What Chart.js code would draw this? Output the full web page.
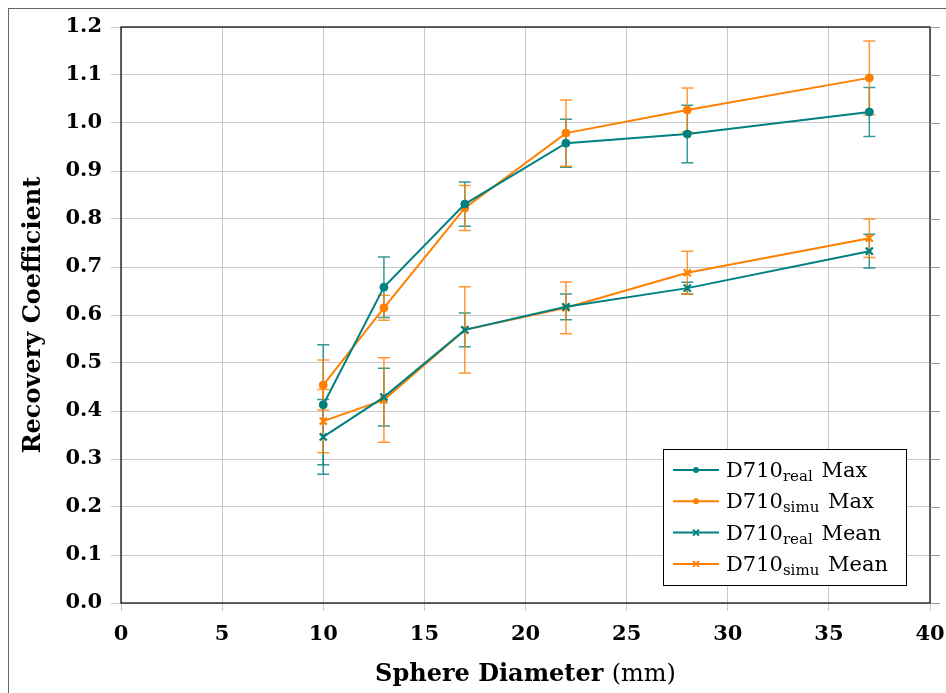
<!DOCTYPE html>
<html>
<head>
<meta charset="utf-8">
<script src="https://cdn.jsdelivr.net/npm/chart.js@4/dist/chart.umd.min.js"></script>
<style>
  html,body{margin:0;padding:0;background:#fff;}
  #wrap{width:946px;height:693px;position:relative;}
</style>
</head>
<body>
<div id="wrap"><canvas id="c" width="946" height="693"></canvas></div>
<script>
// ── data ─────────────────────────────────────────────
const diameters   = [10, 13, 17, 22, 28, 37];
const realMax     = [0.413, 0.658, 0.831, 0.958, 0.977, 1.023];
const realMaxErr  = [0.125, 0.063, 0.046, 0.050, 0.060, 0.051];
const simuMax     = [0.454, 0.615, 0.823, 0.979, 1.027, 1.094];
const simuMaxErr  = [0.052, 0.026, 0.047, 0.069, 0.046, 0.077];
const realMean    = [0.346, 0.429, 0.569, 0.617, 0.656, 0.733];
const realMeanErr = [0.078, 0.060, 0.035, 0.027, 0.012, 0.035];
const simuMean    = [0.379, 0.423, 0.569, 0.615, 0.688, 0.760];
const simuMeanErr = [0.066, 0.088, 0.090, 0.054, 0.045, 0.040];
const xTicks = [0, 5, 10, 15, 20, 25, 30, 35, 40];
const yTicks = [0, 0.1, 0.2, 0.3, 0.4, 0.5, 0.6, 0.7, 0.8, 0.9, 1.0, 1.1, 1.2];

const TEAL = '#008080', ORANGE = '#ff8000';
const SERIF = "'DejaVu Serif', 'Liberation Serif', serif";

const series = [
  {name:'D710', sub:'real', tail:' Max',  vals:realMax,  err:realMaxErr,  color:TEAL,   style:'circle'},
  {name:'D710', sub:'simu', tail:' Max',  vals:simuMax,  err:simuMaxErr,  color:ORANGE, style:'circle'},
  {name:'D710', sub:'real', tail:' Mean', vals:realMean, err:realMeanErr, color:TEAL,   style:'crossRot'},
  {name:'D710', sub:'simu', tail:' Mean', vals:simuMean, err:simuMeanErr, color:ORANGE, style:'crossRot'}
];

// error bars, drawn under the lines
const errorBars = {
  id:'errorBars',
  beforeDatasetsDraw(chart){
    const {ctx, scales:{x, y}} = chart;
    ctx.save();
    series.forEach(s=>{
      ctx.strokeStyle = s.color;
      ctx.globalAlpha = 0.8;
      ctx.lineWidth = 1.5;
      s.vals.forEach((v,i)=>{
        const px = x.getPixelForValue(diameters[i]);
        const top = y.getPixelForValue(v + s.err[i]);
        const bot = y.getPixelForValue(v - s.err[i]);
        ctx.beginPath();
        ctx.moveTo(px, top); ctx.lineTo(px, bot);
        ctx.moveTo(px-6, top); ctx.lineTo(px+6, top);
        ctx.moveTo(px-6, bot); ctx.lineTo(px+6, bot);
        ctx.stroke();
      });
    });
    ctx.restore();
  }
};

// frame, axis box, right ticks, titles and legend
const decor = {
  id:'decor',
  afterDraw(chart){
    const {ctx, chartArea:a, scales:{x, y}} = chart;
    ctx.save();
    // outer figure frame
    ctx.strokeStyle = '#666'; ctx.lineWidth = 1;
    ctx.strokeRect(8.5, 8.5, 1200, 1200);
    // axis box
    ctx.strokeStyle = '#000'; ctx.lineWidth = 1.2;
    ctx.strokeRect(a.left, a.top, a.right-a.left, a.bottom-a.top);
    // outward ticks on the right
    ctx.strokeStyle = '#999'; ctx.lineWidth = 1;
    yTicks.forEach(t=>{
      const py = Math.round(y.getPixelForValue(t)) + 0.5;
      ctx.beginPath(); ctx.moveTo(a.right, py); ctx.lineTo(a.right+10, py); ctx.stroke();
    });
    // x title: bold words + regular unit
    ctx.fillStyle = '#000';
    ctx.textBaseline = 'alphabetic';
    const boldF = "bold 24px " + SERIF, regF = "24px " + SERIF;
    ctx.font = boldF; const w1 = ctx.measureText('Sphere Diameter ').width;
    ctx.font = regF;  const w2 = ctx.measureText('(mm)').width;
    let sx = (a.left + a.right)/2 - (w1+w2)/2;
    ctx.font = boldF; ctx.fillText('Sphere Diameter ', sx, 681);
    ctx.font = regF;  ctx.fillText('(mm)', sx + w1, 681);
    // y title
    ctx.save();
    ctx.translate(40, (a.top + a.bottom)/2);
    ctx.rotate(-Math.PI/2);
    ctx.font = boldF; ctx.textAlign = 'center';
    ctx.fillText('Recovery Coefficient', 0, 0);
    ctx.restore();
    // legend
    const lw = 243, lh = 136;
    const lx = a.right - 24 - lw, ly = a.bottom - 18 - lh;
    ctx.fillStyle = '#fff';
    ctx.fillRect(lx, ly, lw, lh);
    ctx.strokeStyle = '#000'; ctx.lineWidth = 1;
    ctx.strokeRect(Math.round(lx)+0.5, Math.round(ly)+0.5, lw, lh);
    series.forEach((s,i)=>{
      const cy = ly + 21 + i*31.3;
      ctx.strokeStyle = s.color; ctx.fillStyle = s.color; ctx.lineWidth = 2;
      ctx.beginPath(); ctx.moveTo(lx+10, cy); ctx.lineTo(lx+56, cy); ctx.stroke();
      const mx = lx + 33;
      if (s.style === 'circle') {
        ctx.beginPath(); ctx.arc(mx, cy, 3, 0, Math.PI*2); ctx.fill();
      } else {
        ctx.beginPath();
        ctx.moveTo(mx-3, cy-3); ctx.lineTo(mx+3, cy+3);
        ctx.moveTo(mx-3, cy+3); ctx.lineTo(mx+3, cy-3); ctx.stroke();
      }
      ctx.fillStyle = '#000';
      let tx = lx + 63;
      ctx.font = "21px " + SERIF;
      ctx.fillText(s.name, tx, cy + 7); tx += ctx.measureText(s.name).width;
      ctx.font = "15px " + SERIF;
      ctx.fillText(s.sub, tx, cy + 11); tx += ctx.measureText(s.sub).width;
      ctx.font = "21px " + SERIF;
      ctx.fillText(s.tail, tx + 2, cy + 7);
    });
    ctx.restore();
  }
};

const datasets = series.map(s=>({
  label: s.name + s.sub + s.tail,
  data: diameters.map((d,i)=>({x:d, y:s.vals[i]})),
  showLine: true,
  borderColor: s.color,
  backgroundColor: s.color,
  borderWidth: 2,
  pointStyle: s.style,
  pointRadius: s.style === 'circle' ? 4 : 5,
  pointBorderWidth: s.style === 'circle' ? 1 : 2.2,
  pointHoverRadius: 0
}));

new Chart(document.getElementById('c'), {
  type: 'scatter',
  data: {datasets},
  options: {
    responsive: false,
    animation: false,
    layout: {padding: {top: 27, right: 16, left: 0, bottom: 0}},
    plugins: {legend: {display: false}, tooltip: {enabled: false}},
    scales: {
      x: {
        type: 'linear', min: 0, max: 40,
        afterBuildTicks: sc => { sc.ticks = xTicks.map(v=>({value:v})); },
        afterFit: sc => { sc.height = 90; sc.paddingLeft = 0; sc.paddingRight = 0; },
        grid: {color: '#c8c8c8', lineWidth: 1, tickLength: 8, drawTicks: true},
        border: {display: false},
        ticks: {color: '#000', padding: 11, maxRotation: 0,
          font: {family: SERIF, weight: 'bold', size: 21}}
      },
      y: {
        type: 'linear', min: 0, max: 1.2,
        afterBuildTicks: sc => { sc.ticks = yTicks.map(v=>({value:v})); },
        afterFit: sc => { sc.width = 121; sc.paddingTop = 0; sc.paddingBottom = 0; },
        grid: {color: '#c8c8c8', lineWidth: 1, tickLength: 10, drawTicks: true},
        border: {display: false},
        ticks: {color: '#000', padding: 9,
          callback: v => v.toFixed(1),
          font: {family: SERIF, weight: 'bold', size: 21}}
      }
    }
  },
  plugins: [errorBars, decor]
});
</script>
</body>
</html>
